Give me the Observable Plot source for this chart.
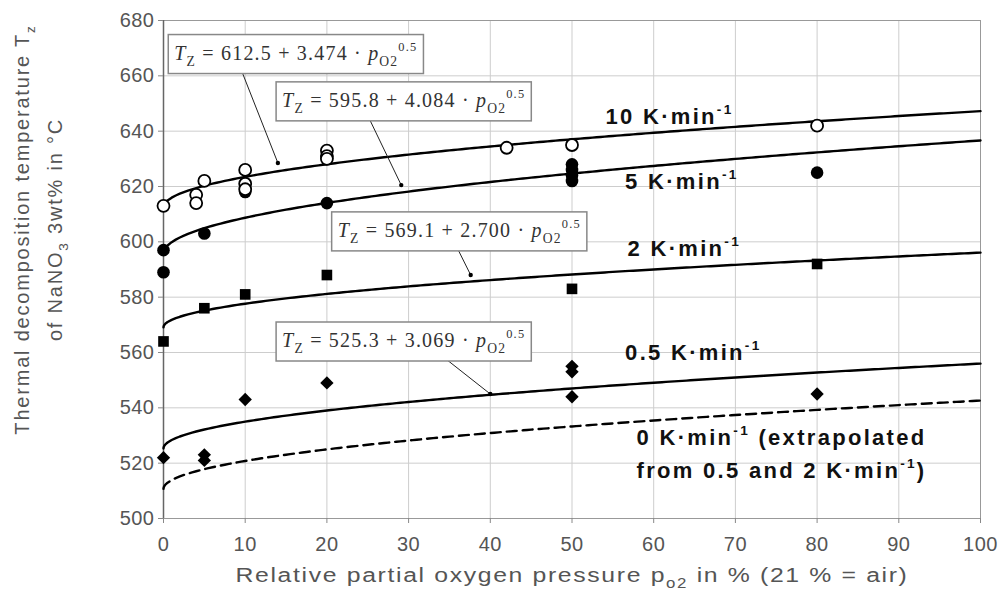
<!DOCTYPE html>
<html><head><meta charset="utf-8">
<script src="https://cdn.jsdelivr.net/npm/d3@7"></script>
<script src="https://cdn.jsdelivr.net/npm/@observablehq/plot@0.6"></script>
<style>body{margin:0;background:#fff} #chart{width:1006px;height:604px}</style>
</head><body><div id="chart"></div>
<script>
// ---- axes ----
const xTicks = [0,10,20,30,40,50,60,70,80,90,100];
const yTicks = [500,520,540,560,580,600,620,640,660,680];
const xTitle = "Relative partial oxygen pressure p_{o2} in % (21 % = air)";
const yTitle1 = "Thermal decomposition temperature T_{z}";
const yTitle2 = "of NaNO_{3} 3wt% in °C";

const p10x = [0,4,4,5,10,10,10,20,20,20,42,50,80];
const p10y = [613,617,614,622,626,621,619,633,631,630,634,635,642];
const p5x  = [0,0,5,10,20,50,50,50,50,80];
const p5y  = [597,589,603,618,614,628,626,624,622,625];
const p2x  = [0,5,10,20,50,80];
const p2y  = [564,576,581,588,583,592];
const p05x = [0,5,5,10,20,50,50,50,80];
const p05y = [522,521,523,543,549,555,553,544,545];

// ---- fitted curves T = a + b * p^0.5 (printed in chart; 0 K/min extrapolated) ----
const rates = ["10","5","2","0.5","0"];
const fitA = [612.5, 595.8, 569.1, 525.3, 510.7];
const fitB = [3.474, 4.084, 2.700, 3.069, 3.192];
const fitExp = 0.5;

// ---- annotation texts ----
const rateLabels = ["10 K·min^{-1}", "5 K·min^{-1}", "2 K·min^{-1}", "0.5 K·min^{-1}",
                    "0 K·min^{-1} (extrapolated", "from 0.5 and 2 K·min^{-1})"];
const rateLabelX = [54.1, 56.5, 56.8, 56.5, 57.9, 57.9];
const rateLabelY = [645.3, 621.8, 597.4, 560.0, 529.1, 517.3];

const eqLabels = [
  "%{T}_{Z} = 612.5 + 3.474 · %{p}_{O2}^{0.5}",
  "%{T}_{Z} = 595.8 + 4.084 · %{p}_{O2}^{0.5}",
  "%{T}_{Z} = 569.1 + 2.700 · %{p}_{O2}^{0.5}",
  "%{T}_{Z} = 525.3 + 3.069 · %{p}_{O2}^{0.5}"];
const eqX = [16.2, 29.4, 36.2, 29.4];
const eqY = [668.2, 651.1, 604.1, 564.3];
const leadX1 = [9.4, 25.3, 36.1, 34.8];
const leadY1 = [663.0, 643.8, 596.9, 557.1];
const leadX2 = [14.0, 29.1, 37.6, 40.0];
const leadY2 = [628.5, 620.5, 588.0, 545.0];

// ---- build tables ----
const pts = (xs, ys) => xs.map((x, i) => ({x, y: ys[i]}));
const sampleX = [0, 0.01, 0.05, 0.1, 0.2, 0.3].concat(d3.range(0.5, 100.0001, 0.5));
const curves = rates.map((r, k) => sampleX.map(x => ({rate: r, x, y: fitA[k] + fitB[k] * Math.pow(x, fitExp)})));
const eqs = eqLabels.map((t, i) => ({t, x: eqX[i], y: eqY[i]}));
const leads = leadX1.map((x1, i) => ({x1, y1: leadY1[i], x2: leadX2[i], y2: leadY2[i]}));
const rls = rateLabels.map((t, i) => ({t, x: rateLabelX[i], y: rateLabelY[i]}));

const chart = Plot.plot({
  width: 1006, height: 604,
  marginLeft: 163, marginRight: 26, marginTop: 20, marginBottom: 86,
  x: {domain: [0, 100]},
  y: {domain: [500, 680]},
  style: {fontFamily: "Liberation Sans, Arial, sans-serif", fontSize: "20px", color: "#555", background: "#fff"},
  marks: [
    Plot.gridX(xTicks, {stroke: "#cdcdcd", strokeOpacity: 1}),
    Plot.gridY(yTicks, {stroke: "#cdcdcd", strokeOpacity: 1}),
    Plot.frame({stroke: "#999"}),
    Plot.ruleX([0], {stroke: "#666", strokeWidth: 1.5}),
    Plot.axisX(xTicks, {tickSize: 5, tickPadding: 13, label: null, fontSize: 20, stroke: "#888"}),
    Plot.axisY(yTicks, {tickSize: 5, tickPadding: 4, label: null, fontSize: 20, stroke: "#888"}),
    Plot.text([xTitle], {frameAnchor: "bottom", dy: 63, fontSize: 21, fill: "#555", className: "xtitle"}),
    Plot.text([yTitle1], {frameAnchor: "left", textAnchor: "middle", rotate: -90, dx: -141, dy: -40, fontSize: 20, fill: "#555", className: "ytitle"}),
    Plot.text([yTitle2], {frameAnchor: "left", textAnchor: "middle", rotate: -90, dx: -108, dy: -40, fontSize: 20, fill: "#555", className: "ytitle"}),
    ...curves.map((c, k) => Plot.line(c, {x: "x", y: "y", stroke: "#000", strokeWidth: 2.4,
        strokeDasharray: rates[k] === "0" ? "10,6" : null})),
    Plot.link(leads, {x1: "x1", y1: "y1", x2: "x2", y2: "y2", stroke: "#222", strokeWidth: 1}),
    Plot.dot(leads, {x: "x2", y: "y2", r: 2.2, fill: "#000"}),
    Plot.dot(pts(p2x, p2y), {x: "x", y: "y", symbol: "square", r: 6, fill: "#000"}),
    Plot.dot(pts(p05x, p05y), {x: "x", y: "y", symbol: "diamond2", r: 6, fill: "#000"}),
    Plot.dot(pts(p5x, p5y), {x: "x", y: "y", symbol: "circle", r: 6.3, fill: "#000"}),
    Plot.dot(pts(p10x, p10y), {x: "x", y: "y", symbol: "circle", r: 6, fill: "#fff", stroke: "#000", strokeWidth: 1.8}),
    Plot.text(rls, {x: "x", y: "y", text: "t", textAnchor: "start", fontWeight: "bold", fontSize: 22, fill: "#111", className: "ratelab"}),
    Plot.text(eqs, {x: "x", y: "y", text: "t", fontFamily: "Liberation Serif, serif", fontSize: 20, fill: "#333", className: "eqlab"})
  ]
});
document.getElementById("chart").appendChild(chart);
d3.select(chart).selectAll(".xtitle text").attr("letter-spacing", "1.4px")
  .attr("transform", function() { return (this.getAttribute("transform") || "") + " scale(1.18,1)"; });
d3.select(chart).selectAll(".ytitle text").attr("letter-spacing", "1.8px");
d3.select(chart).selectAll(".ratelab text").attr("letter-spacing", "2.3px");
d3.select(chart).selectAll(".eqlab text").attr("letter-spacing", "1.2px");
d3.select(chart).selectAll("g[aria-label='x-axis tick label'] text, g[aria-label='y-axis tick label'] text").attr("letter-spacing", "0.5px");

// rich text: %{italic} _{sub} ^{sup}
function richify(el) {
  const t = el.textContent;
  if (!/[_^%]\{/.test(t)) return false;
  const fs = parseFloat(getComputedStyle(el).fontSize) || 18;
  const re = /([_^%])\{([^}]*)\}|([^_^%]+|[_^%])/g;
  el.textContent = "";
  let shift = 0, m;
  while ((m = re.exec(t))) {
    const ts = document.createElementNS("http://www.w3.org/2000/svg", "tspan");
    let target = 0;
    if (m[1] === "_") { target = 0.3 * fs; ts.setAttribute("font-size", (0.68 * fs) + "px"); ts.textContent = m[2]; }
    else if (m[1] === "^") { target = -0.45 * fs; ts.setAttribute("font-size", (0.62 * fs) + "px"); ts.textContent = m[2]; }
    else if (m[1] === "%") { ts.setAttribute("font-style", "italic"); ts.textContent = m[2]; }
    else ts.textContent = m[3];
    if (target - shift !== 0) ts.setAttribute("dy", (target - shift) + "px");
    shift = target;
    el.appendChild(ts);
  }
  return true;
}
d3.select(chart).selectAll("text").each(function() { richify(this); });

// boxes around equations
d3.select(chart).selectAll(".eqlab text").each(function() {
  const bb = this.getBBox();
  const padX = 6, padY = 5;
  const r = document.createElementNS("http://www.w3.org/2000/svg", "rect");
  r.setAttribute("x", bb.x - padX); r.setAttribute("y", bb.y - padY);
  r.setAttribute("width", bb.width + 2 * padX); r.setAttribute("height", bb.height + 2 * padY);
  r.setAttribute("fill", "#fff"); r.setAttribute("stroke", "#888"); r.setAttribute("stroke-width", 1.5);
  const tr = this.getAttribute("transform"); if (tr) r.setAttribute("transform", tr);
  this.parentNode.insertBefore(r, this);
});
</script>
</body></html>
